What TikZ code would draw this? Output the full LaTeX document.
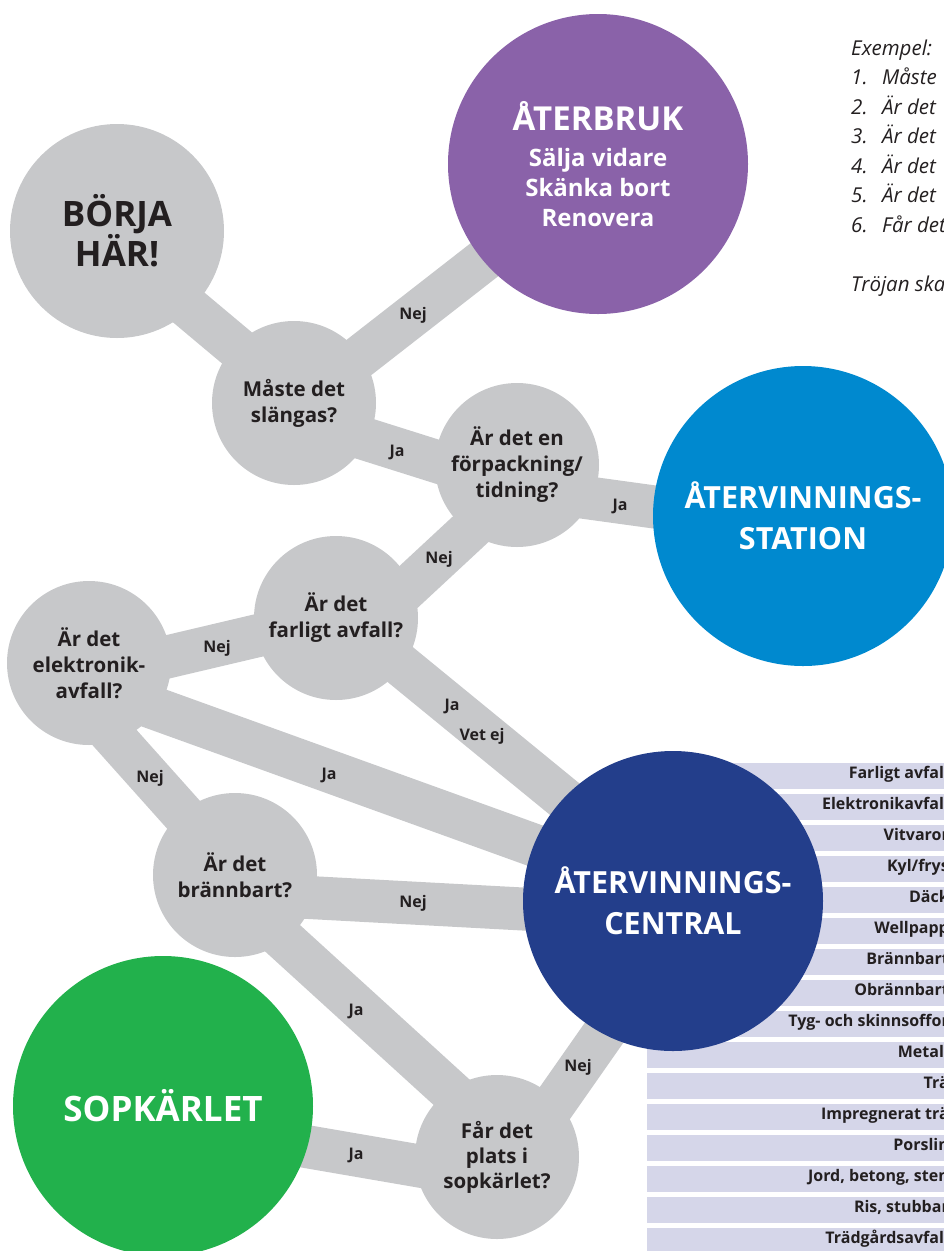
\documentclass[tikz,border=0pt]{standalone}
\usepackage{fontspec}
\setmainfont{Open Sans}
\usetikzlibrary{calc,backgrounds}

\definecolor{bandgray}{HTML}{C7C8CA}
\definecolor{reusepurple}{HTML}{8A62A9}
\definecolor{stationblue}{HTML}{0089CF}
\definecolor{centralnavy}{HTML}{233E8B}
\definecolor{bingreen}{HTML}{22B14C}
\definecolor{listlav}{HTML}{D5D6E9}
\definecolor{inkdark}{HTML}{231F20}

\begin{document}
\begin{tikzpicture}[x=1pt,y=-1pt,
  qnode/.style={circle,fill=bandgray,minimum size=164pt,inner sep=0pt,align=center,text=inkdark,font=\bfseries\fontsize{20.5}{26}\selectfont},
  bignode/.style={circle,minimum size=300pt,inner sep=0pt,align=center,text=white,font=\bfseries\fontsize{30.5}{41}\selectfont},
  band/.style={draw=bandgray,line width=43pt},
  ans/.style={inner sep=0pt,text=inkdark,font=\bfseries\fontsize{16}{18}\selectfont},
  listtxt/.style={anchor=mid east,inner sep=0pt,text=inkdark,font=\bfseries\fontsize{16}{18}\selectfont},
  extxt/.style={anchor=base west,inner sep=0pt,text=inkdark,font=\itshape\fontsize{20.5}{24}\selectfont}]
\useasboundingbox (0,0) rectangle (944,1251);
\clip (0,0) rectangle (944,1251);

% exempel
\node[extxt] (ex0) at (851,55) {Exempel:};
\foreach \n/\itm in {1/Måste,2/Är det,3/Är det,4/Är det,5/Är det,6/Får det}
  \node[extxt] (ex\n) at (851,{55+29.5*\n}) {\makebox[31pt][l]{\n.}\itm};
\node[extxt] (ex7) at (851,291) {Tröjan ska};

% lista
\foreach \itm [count=\k from 0] in {Farligt avfall,Elektronikavfall,Vitvaror,Kyl/frys,Däck,Wellpapp,Brännbart,Obrännbart,Tyg- och skinnsoffor,Metall,Trä,Impregnerat trä,Porslin,{Jord, betong, sten},{Ris, stubbar},Trädgårdsavfall} {
  \fill[listlav] (647,{763+31*\k}) rectangle (944,{788.5+31*\k});
  \node[listtxt] (item\k) at (949,{775.75+31*\k}) {\itm};
}

\node[qnode,minimum size=214pt,font=\bfseries\fontsize{35}{40}\selectfont] (borja) at (117,231) {BÖRJA\\HÄR!};
\node[bignode,fill=reusepurple,font=\bfseries\fontsize{24}{30}\selectfont] (aterbruk) at (598,164)
  {{\fontsize{33}{36}\selectfont ÅTERBRUK}\\[6pt]Sälja vidare\\Skänka bort\\Renovera};
\node[qnode] (maste) at (294,403) {Måste det\\slängas?};
\node[qnode] (forp) at (517,465) {Är det en\\förpackning/\\tidning?};
\node[bignode,fill=stationblue] (station) at (803,516) {ÅTERVINNINGS-\\STATION};
\node[qnode] (farligt) at (336,618) {Är det\\farligt avfall?};
\node[qnode] (elek) at (89,663) {Är det\\elektronik-\\avfall?};
\node[bignode,fill=centralnavy] (central) at (673,901) {ÅTERVINNINGS-\\CENTRAL};
\node[qnode] (brann) at (235,875) {Är det\\brännbart?};
\node[bignode,fill=bingreen,font=\bfseries\fontsize{35}{40}\selectfont] (sopk) at (163,1106) {SOPKÄRLET};
\node[qnode,font=\bfseries\fontsize{20.5}{25}\selectfont] (far) at (497,1157) {Får det\\plats i\\sopkärlet?};

\begin{scope}[on background layer]
\draw[band] ($(borja)+(33,44)$) -- ($(maste)+(-14,-19)$);
\draw[band] ($(maste)+(36,-23)$) -- ($(aterbruk)+(-78,68)$);
\draw[band] ($(maste)+(46,28)$) -- ($(forp)+(-47,7)$);
\draw[band] ($(forp)+(43,29)$) -- ($(station)+(-83,0)$);
\draw[band] ($(forp)+(-17,37)$) -- ($(farligt)+(24,14)$);
\draw[band] ($(farligt)+(-46,10)$) -- ($(elek)+(61,-2)$);
\draw[band] ($(farligt)+(44,30)$) -- ($(central)+(-73,-73)$);
\draw[band] ($(elek)+(51,40)$) -- ($(central)+(-73,-32)$);
\draw[band] ($(elek)+(-8,37)$) -- ($(brann)+(-28,-34)$);
\draw[band] ($(brann)+(65,22)$) -- ($(central)+(-113,10)$);
\draw[band] ($(brann)+(44,60)$) -- ($(far)+(-27,-48)$);
\draw[band] ($(far)+(46,-37)$) -- ($(central)+(-46,99)$);
\draw[band] ($(sopk)+(117,36)$) -- ($(far)+(-37,16)$);
\end{scope}

\node[ans] (a1) at (413,315) {Nej};
\node[ans] (a2) at (397,452) {Ja};
\node[ans] (a3) at (620,506) {Ja};
\node[ans] (a4) at (439,559) {Nej};
\node[ans] (a5) at (217,648) {Nej};
\node[ans] (a6) at (452,706) {Ja};
\node[ans] (a7) at (482,736) {Vet ej};
\node[ans] (a8) at (329,775) {Ja};
\node[ans] (a9) at (150,778) {Nej};
\node[ans] (a10) at (413,903) {Nej};
\node[ans] (a11) at (356,1011) {Ja};
\node[ans] (a12) at (578,1067) {Nej};
\node[ans] (a13) at (356,1155) {Ja};
\end{tikzpicture}
\end{document}
